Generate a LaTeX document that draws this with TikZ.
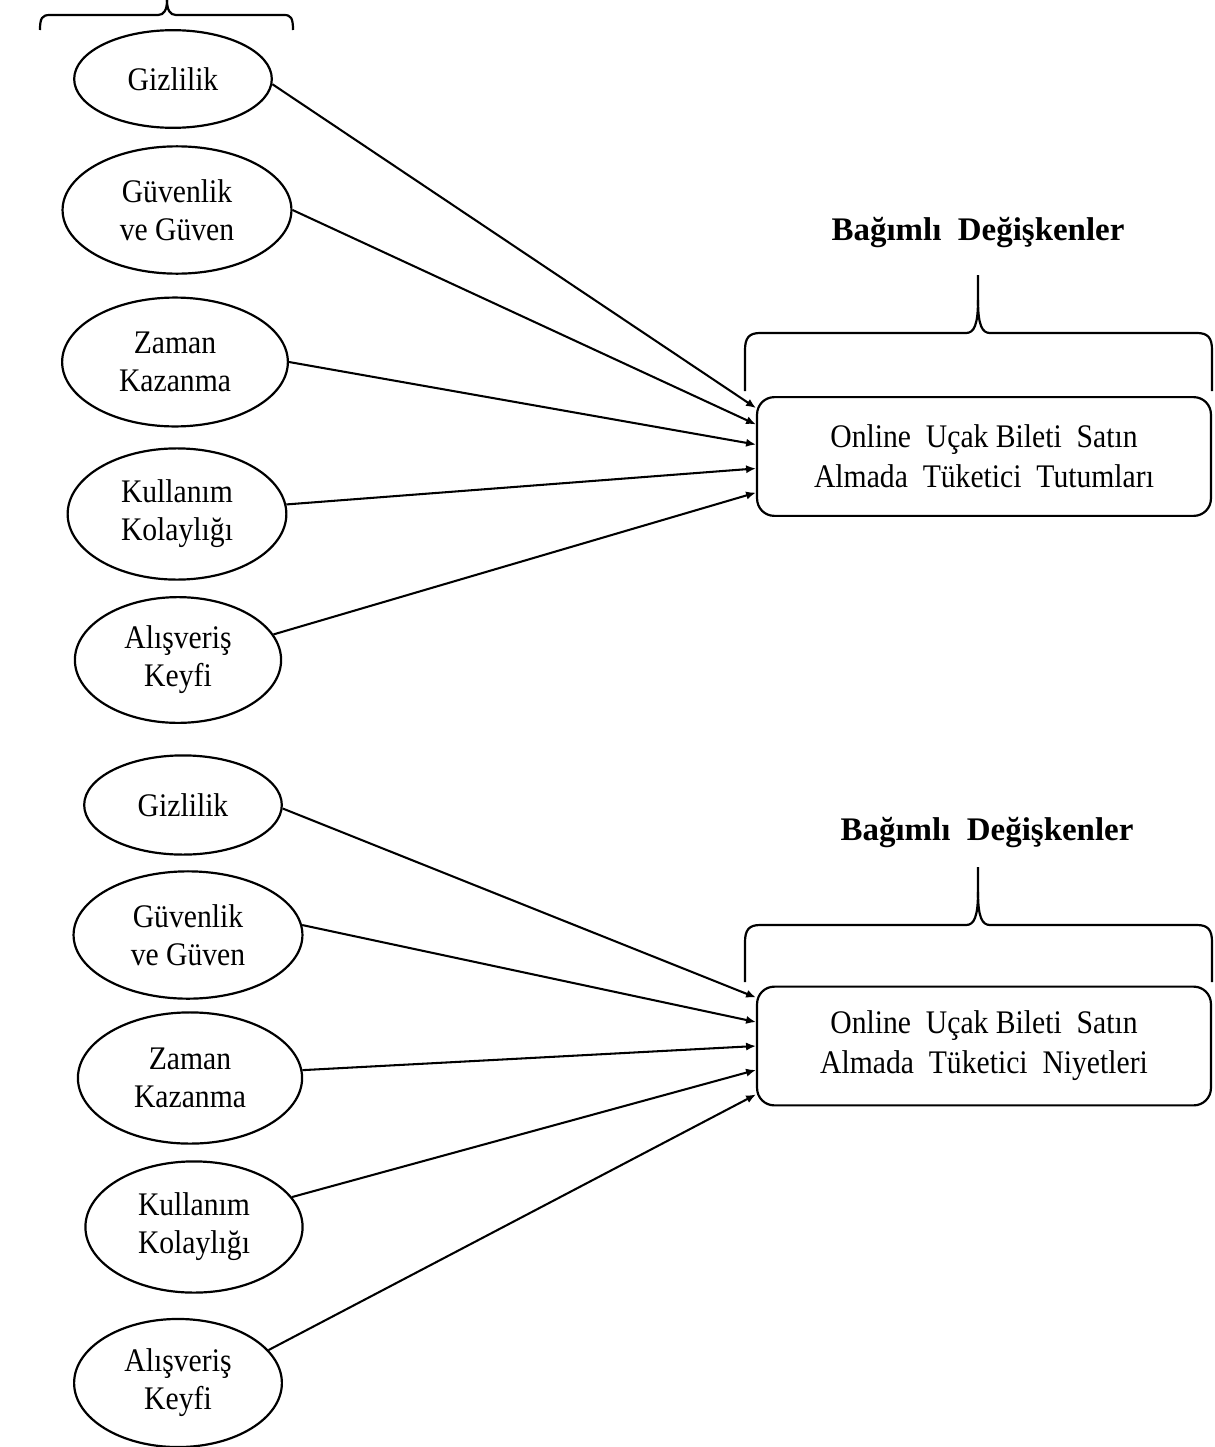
\documentclass[tikz,border=0pt]{standalone}
\usepackage{fontspec}
\setmainfont{Liberation Serif}
\newfontfamily\narrowserif{Liberation Serif}[FakeStretch=0.9]
\usetikzlibrary{arrows.meta,shapes.geometric}

\begin{document}
\begin{tikzpicture}[x=0.0128cm,y=-0.0128cm,
    factor/.style={shape=ellipse,draw=black,line width=0.8pt,inner sep=0pt,align=center,font=\narrowserif\fontsize{12}{13.8}\selectfont},
    varbox/.style={shape=rectangle,rounded corners=0.22cm,draw=black,line width=0.8pt,align=center,minimum width=5.81cm,minimum height=1.52cm,font=\narrowserif\fontsize{12}{14.5}\selectfont},
    heading/.style={font=\fontsize{12}{14}\selectfont\bfseries},
    bracket/.style={line width=0.8pt},
    link/.style={-{Latex[length=3.6pt,width=3pt]},line width=0.75pt}]
    \useasboundingbox (0,0) rectangle (1214,1447);

    % first model
    \node[factor,minimum width=2.53cm,minimum height=1.25cm] (G1) at (173,79) {Gizlilik};
    \node[factor,minimum width=2.93cm,minimum height=1.63cm] (V1) at (177,210) {Güvenlik\\ve Güven};
    \node[factor,minimum width=2.89cm,minimum height=1.65cm] (Z1) at (175,362) {Zaman\\Kazanma};
    \node[factor,minimum width=2.80cm,minimum height=1.68cm] (K1) at (177,514) {Kullanım\\Kolaylığı};
    \node[factor,minimum width=2.64cm,minimum height=1.61cm] (A1) at (178,660) {Alışveriş\\Keyfi};

    \node[heading] (D1) at (978,233) {Bağımlı\ \ Değişkenler};
    \node[varbox] (T1) at (984,456.5) {Online\ \ Uçak Bileti\ \ Satın\\Almada\ \ Tüketici\ \ Tutumları};

    \draw[bracket] (40,30) .. controls (40,18) and (42,15) .. (50,15) -- (158,15) .. controls (164,15) and (167,10) .. (167,0);
    \draw[bracket] (167,0) .. controls (167,10) and (170,15) .. (176,15) -- (284,15) .. controls (291,15) and (293,18) .. (293,30);
    \draw[bracket] (745,391) -- (745,350) .. controls (745,338) and (749,333) .. (760,333) -- (966,333) .. controls (974,333) and (978,325) .. (978,300) -- (978,275);
    \draw[bracket] (978,300) .. controls (978,325) and (982,333) .. (990,333) -- (1197,333) .. controls (1208,333) and (1212,338) .. (1212,350) -- (1212,391);

    \path [link] (G1.-3) edge (T1.168.5);
    \path [link] (V1.east) edge (T1.172.6);
    \path [link] (Z1.east) edge (T1.177.9);
    \path [link] (K1.5) edge (T1.183.1);
    \path [link] (A1.15) edge (T1.189.1);

    % second model
    \node[factor,minimum width=2.53cm,minimum height=1.27cm] (G2) at (183,805) {Gizlilik};
    \node[factor,minimum width=2.93cm,minimum height=1.63cm] (V2) at (188,935) {Güvenlik\\ve Güven};
    \node[factor,minimum width=2.87cm,minimum height=1.68cm] (Z2) at (190,1078) {Zaman\\Kazanma};
    \node[factor,minimum width=2.78cm,minimum height=1.68cm] (K2) at (194,1227) {Kullanım\\Kolaylığı};
    \node[factor,minimum width=2.66cm,minimum height=1.64cm] (A2) at (178,1383) {Alışveriş\\Keyfi};

    \node[heading] (D2) at (987,833) {Bağımlı\ \ Değişkenler};
    \node[varbox] (T2) at (984,1046) {Online\ \ Uçak Bileti\ \ Satın\\Almada\ \ Tüketici\ \ Niyetleri};

    \draw[bracket] (745,982) -- (745,942) .. controls (745,930) and (749,925) .. (760,925) -- (966,925) .. controls (974,925) and (978,917) .. (978,892) -- (978,867);
    \draw[bracket] (978,892) .. controls (978,917) and (982,925) .. (990,925) -- (1197,925) .. controls (1208,925) and (1212,930) .. (1212,942) -- (1212,982);

    \path [link] (G2.-2) edge (T2.168.3);
    \path [link] (V2.5) edge (T2.174);
    \path [link] (Z2.4) edge (T2.west);
    \path [link] (K2.17) edge (T2.186.5);
    \path [link] (A2.20) edge (T2.192.2);
\end{tikzpicture}
\end{document}
